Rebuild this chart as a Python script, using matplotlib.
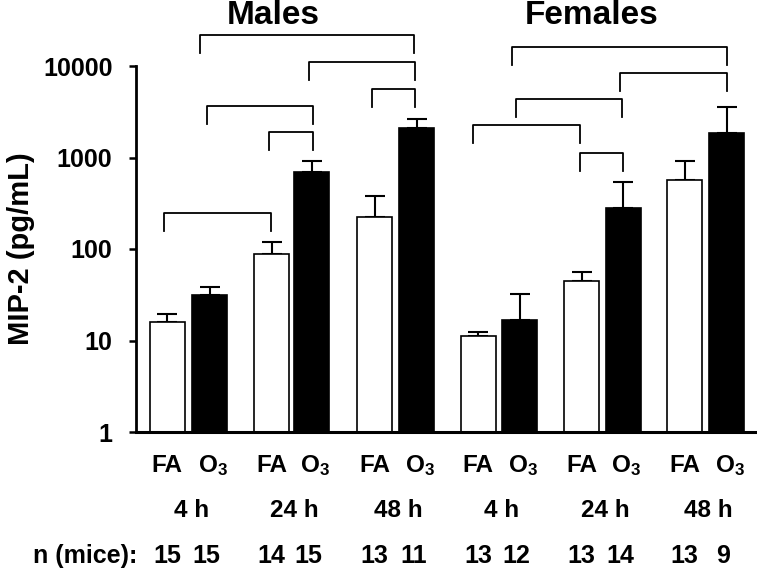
import matplotlib.pyplot as plt
from matplotlib.transforms import blended_transform_factory

plt.rcParams['font.family'] = 'Liberation Sans'
plt.rcParams['font.weight'] = 'bold'
plt.rcParams['mathtext.fontset'] = 'custom'
plt.rcParams['mathtext.rm'] = 'Liberation Sans:bold'
plt.rcParams['mathtext.it'] = 'Liberation Sans:bold'
plt.rcParams['mathtext.bf'] = 'Liberation Sans:bold'

# Datos (pg/mL), media y error superior
groups = ['4 h', '24 h', '48 h']
males_fa = [16, 88, 224]
males_fa_err = [3.5, 32, 156]
males_o3 = [31.5, 695, 2100]
males_o3_err = [6.5, 220, 540]
females_fa = [11.2, 44.7, 570]
females_fa_err = [1.1, 11.3, 345]
females_o3 = [16.7, 282, 1850]
females_o3_err = [15.3, 258, 1720]
n_mice = [15, 15, 14, 15, 13, 11, 13, 12, 13, 14, 13, 9]

# Posiciones (unidades ~ pixeles)
fa_x = [167, 271.5, 374.5, 478, 581.5, 684.5]
o3_x = [209.5, 311.5, 416.5, 519.5, 623, 726.5]
bw = 35

# Corchetes: x izquierda, x derecha, fila superior (px)
brackets = [(200, 414, 35), (309, 415, 62), (372, 415, 89), (207, 313, 106),
            (269, 313, 132), (164, 271, 213),
            (512, 727, 47), (620, 727, 73), (516, 622, 99), (473, 580, 125),
            (580, 623, 153)]

W, H = 757, 569
fig = plt.figure(figsize=(W / 100, H / 100), dpi=100)
ax = fig.add_axes([136 / W, 1 - 432 / H, 1 - 136 / W, (432 - 66) / H])

fa_vals = males_fa + females_fa
fa_err = males_fa_err + females_fa_err
o3_vals = males_o3 + females_o3
o3_err = males_o3_err + females_o3_err

ax.bar(fa_x, fa_vals, width=bw, color='white', edgecolor='black', linewidth=1.2, zorder=2)
ax.bar(o3_x, o3_vals, width=bw, color='black', edgecolor='black', linewidth=1.2, zorder=2)
ax.errorbar(fa_x, fa_vals, yerr=[[0] * 6, fa_err], fmt='none', ecolor='black',
            elinewidth=1.5, capsize=7, capthick=1.5, zorder=1)
ax.errorbar(o3_x, o3_vals, yerr=[[0] * 6, o3_err], fmt='none', ecolor='black',
            elinewidth=1.5, capsize=7, capthick=1.5, zorder=1)

ax.set_yscale('log')
ax.set_ylim(1, 10000)
ax.set_xlim(136, 757)
ax.set_yticks([1, 10, 100, 1000, 10000])
ax.set_yticklabels(['1', '10', '100', '1000', '10000'])
ax.minorticks_off()
ax.tick_params(axis='y', labelsize=18, length=5, width=1.8, pad=12)
ax.set_xticks([])
ax.spines['top'].set_visible(False)
ax.spines['right'].set_visible(False)
ax.spines['left'].set_linewidth(2)
ax.spines['bottom'].set_linewidth(2.2)
ax.set_ylabel('MIP-2 (pg/mL)', fontsize=21, fontweight='bold', labelpad=6)

tr = blended_transform_factory(ax.transData, fig.transFigure)


def fy(py):
    return 1 - py / H


for x0, x1, top in brackets:
    ax.plot([x0, x0, x1, x1], [fy(top + 18), fy(top), fy(top), fy(top + 18)],
            color='black', lw=1.3, transform=tr, clip_on=False)

ax.text(273, fy(24), 'Males', transform=tr, ha='center', va='baseline', fontsize=24)
ax.text(592, fy(24), 'Females', transform=tr, ha='center', va='baseline', fontsize=24)

for i in range(6):
    ax.text(fa_x[i], fy(472), 'FA', transform=tr, ha='center', va='baseline', fontsize=17.5)
    ax.text(o3_x[i] + 3, fy(472), 'O$_3$', transform=tr, ha='center', va='baseline', fontsize=17.5)
    ax.text((fa_x[i] + o3_x[i]) / 2 + 3, fy(517), groups[i % 3], transform=tr,
            ha='center', va='baseline', fontsize=17.5)
    ax.text(fa_x[i], fy(563), str(n_mice[2 * i]), transform=tr, ha='center', va='baseline', fontsize=18)
    ax.text(o3_x[i] - 3, fy(563), str(n_mice[2 * i + 1]), transform=tr, ha='center', va='baseline', fontsize=18)

ax.text(137, fy(563), 'n (mice):', transform=tr, ha='right', va='baseline', fontsize=18)

fig.savefig('out.png', dpi=100)
